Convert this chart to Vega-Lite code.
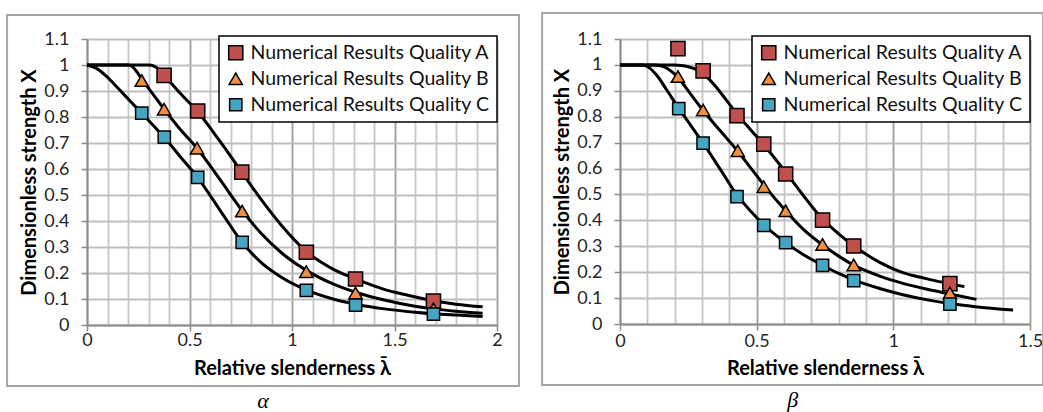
{
  "$schema": "https://vega.github.io/schema/vega-lite/v6.json",
  "padding": {"left": 6, "top": 12, "right": 0, "bottom": 0},
  "background": "white",
  "spacing": 21,
  "config": {
    "view": {"stroke": null},
    "font": "Lato",
    "legend": {
      "labelFont": "Lato", "labelFontSize": 19.5, "labelColor": "#111111", "labelLimit": 400,
      "strokeColor": "#000000", "strokeWidth": 1.5, "fillColor": "white", "padding": 7, "rowPadding": 5,
      "symbolStrokeColor": "#000000", "symbolStrokeWidth": 1.5, "symbolSize": 125, "labelOffset": 5,
      "symbolOpacity": 1
    }
  },
  "datasets": {
    "ptsAlpha": [
      {"series": "Numerical Results Quality A", "x": 0.376, "y": 0.96},
      {"series": "Numerical Results Quality A", "x": 0.54, "y": 0.823},
      {"series": "Numerical Results Quality A", "x": 0.755, "y": 0.588},
      {"series": "Numerical Results Quality A", "x": 1.07, "y": 0.28},
      {"series": "Numerical Results Quality A", "x": 1.31, "y": 0.177},
      {"series": "Numerical Results Quality A", "x": 1.69, "y": 0.092},
      {"series": "Numerical Results Quality B", "x": 0.267, "y": 0.94},
      {"series": "Numerical Results Quality B", "x": 0.376, "y": 0.83},
      {"series": "Numerical Results Quality B", "x": 0.537, "y": 0.68},
      {"series": "Numerical Results Quality B", "x": 0.757, "y": 0.438},
      {"series": "Numerical Results Quality B", "x": 1.07, "y": 0.205},
      {"series": "Numerical Results Quality B", "x": 1.31, "y": 0.123},
      {"series": "Numerical Results Quality B", "x": 1.69, "y": 0.062},
      {"series": "Numerical Results Quality C", "x": 0.267, "y": 0.815},
      {"series": "Numerical Results Quality C", "x": 0.377, "y": 0.723},
      {"series": "Numerical Results Quality C", "x": 0.54, "y": 0.568},
      {"series": "Numerical Results Quality C", "x": 0.757, "y": 0.318},
      {"series": "Numerical Results Quality C", "x": 1.07, "y": 0.133},
      {"series": "Numerical Results Quality C", "x": 1.31, "y": 0.076},
      {"series": "Numerical Results Quality C", "x": 1.69, "y": 0.042}
    ],
    "curvesAlpha": [
      {"series": "A", "x": 0, "y": 1}, {"series": "A", "x": 0.1, "y": 1}, {"series": "A", "x": 0.2, "y": 1}, {"series": "A", "x": 0.3, "y": 1},
      {"series": "A", "x": 0.33, "y": 0.995}, {"series": "A", "x": 0.355, "y": 0.98}, {"series": "A", "x": 0.38, "y": 0.958},
      {"series": "A", "x": 0.45, "y": 0.895}, {"series": "A", "x": 0.54, "y": 0.82}, {"series": "A", "x": 0.65, "y": 0.705},
      {"series": "A", "x": 0.755, "y": 0.588}, {"series": "A", "x": 0.85, "y": 0.482}, {"series": "A", "x": 0.95, "y": 0.382},
      {"series": "A", "x": 1.07, "y": 0.283}, {"series": "A", "x": 1.2, "y": 0.215}, {"series": "A", "x": 1.31, "y": 0.177},
      {"series": "A", "x": 1.45, "y": 0.137}, {"series": "A", "x": 1.55, "y": 0.117}, {"series": "A", "x": 1.69, "y": 0.093},
      {"series": "A", "x": 1.8, "y": 0.08}, {"series": "A", "x": 1.93, "y": 0.07},
      {"series": "B", "x": 0, "y": 1}, {"series": "B", "x": 0.1, "y": 1}, {"series": "B", "x": 0.2, "y": 1},
      {"series": "B", "x": 0.215, "y": 0.997}, {"series": "B", "x": 0.24, "y": 0.977}, {"series": "B", "x": 0.267, "y": 0.946},
      {"series": "B", "x": 0.32, "y": 0.89}, {"series": "B", "x": 0.376, "y": 0.83}, {"series": "B", "x": 0.45, "y": 0.757},
      {"series": "B", "x": 0.537, "y": 0.68}, {"series": "B", "x": 0.65, "y": 0.558}, {"series": "B", "x": 0.757, "y": 0.44},
      {"series": "B", "x": 0.85, "y": 0.352}, {"series": "B", "x": 0.95, "y": 0.277}, {"series": "B", "x": 1.07, "y": 0.21},
      {"series": "B", "x": 1.2, "y": 0.158}, {"series": "B", "x": 1.31, "y": 0.126}, {"series": "B", "x": 1.45, "y": 0.096},
      {"series": "B", "x": 1.6, "y": 0.072}, {"series": "B", "x": 1.69, "y": 0.062}, {"series": "B", "x": 1.8, "y": 0.053},
      {"series": "B", "x": 1.93, "y": 0.045},
      {"series": "C", "x": 0, "y": 1}, {"series": "C", "x": 0.044, "y": 0.988}, {"series": "C", "x": 0.093, "y": 0.958},
      {"series": "C", "x": 0.133, "y": 0.926}, {"series": "C", "x": 0.182, "y": 0.885}, {"series": "C", "x": 0.239, "y": 0.838},
      {"series": "C", "x": 0.267, "y": 0.815}, {"series": "C", "x": 0.32, "y": 0.77}, {"series": "C", "x": 0.377, "y": 0.722},
      {"series": "C", "x": 0.45, "y": 0.652}, {"series": "C", "x": 0.54, "y": 0.567}, {"series": "C", "x": 0.65, "y": 0.44},
      {"series": "C", "x": 0.757, "y": 0.318}, {"series": "C", "x": 0.85, "y": 0.24}, {"series": "C", "x": 0.95, "y": 0.183},
      {"series": "C", "x": 1.07, "y": 0.135}, {"series": "C", "x": 1.2, "y": 0.1}, {"series": "C", "x": 1.31, "y": 0.08},
      {"series": "C", "x": 1.45, "y": 0.062}, {"series": "C", "x": 1.6, "y": 0.049}, {"series": "C", "x": 1.69, "y": 0.043},
      {"series": "C", "x": 1.8, "y": 0.038}, {"series": "C", "x": 1.93, "y": 0.033}
    ],
    "ptsBeta": [
      {"series": "Numerical Results Quality A", "x": 0.212, "y": 1.063},
      {"series": "Numerical Results Quality A", "x": 0.304, "y": 0.977},
      {"series": "Numerical Results Quality A", "x": 0.428, "y": 0.804},
      {"series": "Numerical Results Quality A", "x": 0.526, "y": 0.694},
      {"series": "Numerical Results Quality A", "x": 0.606, "y": 0.579},
      {"series": "Numerical Results Quality A", "x": 0.741, "y": 0.401},
      {"series": "Numerical Results Quality A", "x": 0.855, "y": 0.301},
      {"series": "Numerical Results Quality A", "x": 1.207, "y": 0.156},
      {"series": "Numerical Results Quality B", "x": 0.212, "y": 0.955},
      {"series": "Numerical Results Quality B", "x": 0.304, "y": 0.826},
      {"series": "Numerical Results Quality B", "x": 0.431, "y": 0.669},
      {"series": "Numerical Results Quality B", "x": 0.526, "y": 0.53},
      {"series": "Numerical Results Quality B", "x": 0.606, "y": 0.437},
      {"series": "Numerical Results Quality B", "x": 0.741, "y": 0.307},
      {"series": "Numerical Results Quality B", "x": 0.855, "y": 0.228},
      {"series": "Numerical Results Quality B", "x": 1.207, "y": 0.12},
      {"series": "Numerical Results Quality C", "x": 0.215, "y": 0.831},
      {"series": "Numerical Results Quality C", "x": 0.304, "y": 0.698},
      {"series": "Numerical Results Quality C", "x": 0.428, "y": 0.492},
      {"series": "Numerical Results Quality C", "x": 0.526, "y": 0.381},
      {"series": "Numerical Results Quality C", "x": 0.606, "y": 0.314},
      {"series": "Numerical Results Quality C", "x": 0.741, "y": 0.226},
      {"series": "Numerical Results Quality C", "x": 0.855, "y": 0.167},
      {"series": "Numerical Results Quality C", "x": 1.207, "y": 0.077}
    ],
    "curvesBeta": [
      {"series": "A", "x": 0, "y": 1}, {"series": "A", "x": 0.1, "y": 1}, {"series": "A", "x": 0.2, "y": 1},
      {"series": "A", "x": 0.225, "y": 0.998}, {"series": "A", "x": 0.25, "y": 0.993}, {"series": "A", "x": 0.28, "y": 0.982},
      {"series": "A", "x": 0.304, "y": 0.967}, {"series": "A", "x": 0.35, "y": 0.917}, {"series": "A", "x": 0.39, "y": 0.863},
      {"series": "A", "x": 0.428, "y": 0.81}, {"series": "A", "x": 0.48, "y": 0.747}, {"series": "A", "x": 0.526, "y": 0.692},
      {"series": "A", "x": 0.606, "y": 0.586}, {"series": "A", "x": 0.67, "y": 0.497}, {"series": "A", "x": 0.741, "y": 0.405},
      {"series": "A", "x": 0.8, "y": 0.348}, {"series": "A", "x": 0.855, "y": 0.302}, {"series": "A", "x": 0.95, "y": 0.238},
      {"series": "A", "x": 1.035, "y": 0.198}, {"series": "A", "x": 1.12, "y": 0.175}, {"series": "A", "x": 1.207, "y": 0.155},
      {"series": "A", "x": 1.26, "y": 0.144},
      {"series": "B", "x": 0, "y": 1}, {"series": "B", "x": 0.13, "y": 1}, {"series": "B", "x": 0.16, "y": 0.993},
      {"series": "B", "x": 0.188, "y": 0.975}, {"series": "B", "x": 0.212, "y": 0.952}, {"series": "B", "x": 0.255, "y": 0.892},
      {"series": "B", "x": 0.304, "y": 0.824}, {"series": "B", "x": 0.37, "y": 0.742}, {"series": "B", "x": 0.431, "y": 0.667},
      {"series": "B", "x": 0.48, "y": 0.6}, {"series": "B", "x": 0.526, "y": 0.537}, {"series": "B", "x": 0.606, "y": 0.437},
      {"series": "B", "x": 0.67, "y": 0.366}, {"series": "B", "x": 0.741, "y": 0.305}, {"series": "B", "x": 0.8, "y": 0.262},
      {"series": "B", "x": 0.855, "y": 0.227}, {"series": "B", "x": 0.95, "y": 0.185}, {"series": "B", "x": 1.035, "y": 0.157},
      {"series": "B", "x": 1.12, "y": 0.135}, {"series": "B", "x": 1.207, "y": 0.116}, {"series": "B", "x": 1.304, "y": 0.095},
      {"series": "C", "x": 0, "y": 1}, {"series": "C", "x": 0.08, "y": 1}, {"series": "C", "x": 0.1, "y": 0.994},
      {"series": "C", "x": 0.133, "y": 0.962}, {"series": "C", "x": 0.17, "y": 0.905}, {"series": "C", "x": 0.215, "y": 0.832},
      {"series": "C", "x": 0.26, "y": 0.765}, {"series": "C", "x": 0.304, "y": 0.698}, {"series": "C", "x": 0.37, "y": 0.592},
      {"series": "C", "x": 0.428, "y": 0.498}, {"series": "C", "x": 0.48, "y": 0.433}, {"series": "C", "x": 0.526, "y": 0.383},
      {"series": "C", "x": 0.606, "y": 0.314}, {"series": "C", "x": 0.67, "y": 0.268}, {"series": "C", "x": 0.741, "y": 0.227},
      {"series": "C", "x": 0.8, "y": 0.195}, {"series": "C", "x": 0.855, "y": 0.17}, {"series": "C", "x": 0.95, "y": 0.137},
      {"series": "C", "x": 1.035, "y": 0.113}, {"series": "C", "x": 1.12, "y": 0.094}, {"series": "C", "x": 1.207, "y": 0.079},
      {"series": "C", "x": 1.3, "y": 0.067}, {"series": "C", "x": 1.438, "y": 0.054}
    ]
  },
  "resolve": {
    "scale": {"x": "independent", "y": "independent", "color": "independent", "shape": "independent", "size": "independent"},
    "legend": {"color": "independent", "shape": "independent", "size": "independent"}
  },
  "hconcat": [
    {
      "width": 410, "height": 286,
      "title": {"text": "α", "orient": "bottom", "frame": "bounds", "anchor": "middle", "font": "Liberation Serif", "fontStyle": "italic", "fontWeight": "normal", "fontSize": 22, "color": "#000000", "offset": 4},
      "layer": [
        {
          "data": {"values": [{}]},
          "mark": {"type": "rect", "fill": "white", "fillOpacity": 0, "stroke": "#a6a6a6", "strokeWidth": 2, "clip": false},
          "encoding": {
            "x": {"datum": -0.39, "type": "quantitative", "scale": {"domain": [0, 2], "nice": false, "zero": false},
              "axis": {"title": "Relative slenderness λ̄", "values": [0,0.1,0.2,0.3,0.4,0.5,0.6,0.7,0.8,0.9,1,1.1,1.2,1.3,1.4,1.5,1.6,1.7,1.8,1.9,2],
                "labelExpr": "round(datum.value*10) % 5 === 0 ? format(datum.value, '.1~f') : ''",
                "grid": true, "gridWidth": 1.8,
                "gridColor": {"condition": {"test": "round(datum.value*10) % 5 === 0", "value": "#9c9c9c"}, "value": "#c6c6c6"},
                "ticks": true, "tickSize": 6, "tickWidth": 1.5, "tickColor": "#8c8c8c",
                "tickOpacity": {"condition": {"test": "round(datum.value*10) % 5 === 0", "value": 1}, "value": 0},
                "domainColor": "#8c8c8c", "domainWidth": 1.8,
                "labelFont": "Lato", "labelFontSize": 18, "labelColor": "#262626", "labelFlush": false, "labelOverlap": false,
                "titleFont": "Lato", "titleFontSize": 20, "titleFontWeight": "bold", "titleColor": "#000000",
                "labelPadding": 0, "titlePadding": 9}},
            "x2": {"datum": 2.107},
            "y": {"datum": -0.235, "type": "quantitative", "scale": {"domain": [0, 1.1], "nice": false, "zero": false},
              "axis": {"title": "Dimensionless strength X", "values": [0,0.1,0.2,0.3,0.4,0.5,0.6,0.7,0.8,0.9,1,1.1],
                "format": ".1~f", "grid": true, "gridWidth": 1.8, "gridColor": "#bfbfbf",
                "ticks": true, "tickSize": 6, "tickWidth": 1.5, "tickColor": "#8c8c8c",
                "domainColor": "#8c8c8c", "domainWidth": 1.8,
                "labelFont": "Lato", "labelFontSize": 18, "labelColor": "#262626", "labelFlush": false, "labelOverlap": false,
                "titleFont": "Lato", "titleFontSize": 20, "titleFontWeight": "bold", "titleColor": "#000000",
                "labelPadding": 12, "titlePadding": 4}},
            "y2": {"datum": 1.192}
          }
        },
        {
          "data": {"name": "curvesAlpha"},
          "mark": {"type": "line", "color": "#000000", "strokeWidth": 3, "interpolate": "monotone"},
          "encoding": {
            "x": {"field": "x", "type": "quantitative", "scale": {"domain": [0, 2], "nice": false, "zero": false},
              "axis": {"title": "Relative slenderness λ̄", "values": [0,0.1,0.2,0.3,0.4,0.5,0.6,0.7,0.8,0.9,1,1.1,1.2,1.3,1.4,1.5,1.6,1.7,1.8,1.9,2],
                "labelExpr": "round(datum.value*10) % 5 === 0 ? format(datum.value, '.1~f') : ''",
                "grid": true, "gridWidth": 1.8,
                "gridColor": {"condition": {"test": "round(datum.value*10) % 5 === 0", "value": "#9c9c9c"}, "value": "#c6c6c6"},
                "ticks": true, "tickSize": 6, "tickWidth": 1.5, "tickColor": "#8c8c8c",
                "tickOpacity": {"condition": {"test": "round(datum.value*10) % 5 === 0", "value": 1}, "value": 0},
                "domainColor": "#8c8c8c", "domainWidth": 1.8,
                "labelFont": "Lato", "labelFontSize": 18, "labelColor": "#262626", "labelFlush": false, "labelOverlap": false,
                "titleFont": "Lato", "titleFontSize": 20, "titleFontWeight": "bold", "titleColor": "#000000",
                "labelPadding": 0, "titlePadding": 9}},
            "y": {"field": "y", "type": "quantitative", "scale": {"domain": [0, 1.1], "nice": false, "zero": false},
              "axis": {"title": "Dimensionless strength X", "values": [0,0.1,0.2,0.3,0.4,0.5,0.6,0.7,0.8,0.9,1,1.1],
                "format": ".1~f", "grid": true, "gridWidth": 1.8, "gridColor": "#bfbfbf",
                "ticks": true, "tickSize": 6, "tickWidth": 1.5, "tickColor": "#8c8c8c",
                "domainColor": "#8c8c8c", "domainWidth": 1.8,
                "labelFont": "Lato", "labelFontSize": 18, "labelColor": "#262626", "labelFlush": false, "labelOverlap": false,
                "titleFont": "Lato", "titleFontSize": 20, "titleFontWeight": "bold", "titleColor": "#000000",
                "labelPadding": 12, "titlePadding": 4}},
            "detail": {"field": "series"}
          }
        },
        {
          "data": {"name": "ptsAlpha"},
          "mark": {"type": "point", "filled": true, "stroke": "#000000", "strokeWidth": 1.5, "opacity": 1},
          "encoding": {
            "x": {"field": "x", "type": "quantitative", "scale": {"domain": [0, 2], "nice": false, "zero": false},
              "axis": {"title": "Relative slenderness λ̄", "values": [0,0.1,0.2,0.3,0.4,0.5,0.6,0.7,0.8,0.9,1,1.1,1.2,1.3,1.4,1.5,1.6,1.7,1.8,1.9,2],
                "labelExpr": "round(datum.value*10) % 5 === 0 ? format(datum.value, '.1~f') : ''",
                "grid": true, "gridWidth": 1.8,
                "gridColor": {"condition": {"test": "round(datum.value*10) % 5 === 0", "value": "#9c9c9c"}, "value": "#c6c6c6"},
                "ticks": true, "tickSize": 6, "tickWidth": 1.5, "tickColor": "#8c8c8c",
                "tickOpacity": {"condition": {"test": "round(datum.value*10) % 5 === 0", "value": 1}, "value": 0},
                "domainColor": "#8c8c8c", "domainWidth": 1.8,
                "labelFont": "Lato", "labelFontSize": 18, "labelColor": "#262626", "labelFlush": false, "labelOverlap": false,
                "titleFont": "Lato", "titleFontSize": 20, "titleFontWeight": "bold", "titleColor": "#000000",
                "labelPadding": 0, "titlePadding": 9}},
            "y": {"field": "y", "type": "quantitative", "scale": {"domain": [0, 1.1], "nice": false, "zero": false},
              "axis": {"title": "Dimensionless strength X", "values": [0,0.1,0.2,0.3,0.4,0.5,0.6,0.7,0.8,0.9,1,1.1],
                "format": ".1~f", "grid": true, "gridWidth": 1.8, "gridColor": "#bfbfbf",
                "ticks": true, "tickSize": 6, "tickWidth": 1.5, "tickColor": "#8c8c8c",
                "domainColor": "#8c8c8c", "domainWidth": 1.8,
                "labelFont": "Lato", "labelFontSize": 18, "labelColor": "#262626", "labelFlush": false, "labelOverlap": false,
                "titleFont": "Lato", "titleFontSize": 20, "titleFontWeight": "bold", "titleColor": "#000000",
                "labelPadding": 12, "titlePadding": 4}},
            "color": {"field": "series", "type": "nominal", "sort": null,
              "scale": {"domain": ["Numerical Results Quality A", "Numerical Results Quality B", "Numerical Results Quality C"], "range": ["#C0504D", "#F09040", "#46A5C2"]},
              "legend": {"title": null, "orient": "none", "legendX": 132, "legendY": -3, "labelLimit": 400,
                "encode": {"symbols": {"update": {"stroke": {"value": "#000000"}, "strokeWidth": {"value": 1.5}}}}}},
            "shape": {"field": "series", "type": "nominal", "sort": null,
              "scale": {"domain": ["Numerical Results Quality A", "Numerical Results Quality B", "Numerical Results Quality C"], "range": ["square", "triangle-up", "square"]},
              "legend": {"title": null, "orient": "none", "legendX": 132, "legendY": -3, "labelLimit": 400,
                "encode": {"symbols": {"update": {"stroke": {"value": "#000000"}, "strokeWidth": {"value": 1.5}}}}}},
            "size": {"field": "series", "type": "nominal", "legend": null,
              "scale": {"domain": ["Numerical Results Quality A", "Numerical Results Quality B", "Numerical Results Quality C"], "range": [200, 150, 275]}}
          }
        }
      ]
    },
    {
      "width": 410, "height": 285,
      "title": {"text": "β", "orient": "bottom", "frame": "bounds", "anchor": "middle", "font": "Liberation Serif", "fontStyle": "italic", "fontWeight": "normal", "fontSize": 22, "color": "#000000", "offset": 4},
      "layer": [
        {
          "data": {"values": [{}]},
          "mark": {"type": "rect", "fill": "white", "fillOpacity": 0, "stroke": "#a6a6a6", "strokeWidth": 2, "clip": false},
          "encoding": {
            "x": {"datum": -0.285, "type": "quantitative", "scale": {"domain": [0, 1.5], "nice": false, "zero": false},
              "axis": {"title": "Relative slenderness λ̄", "values": [0,0.1,0.2,0.3,0.4,0.5,0.6,0.7,0.8,0.9,1,1.1,1.2,1.3,1.4,1.5],
                "labelExpr": "round(datum.value*10) % 5 === 0 ? format(datum.value, '.1~f') : ''",
                "grid": true, "gridWidth": 1.8,
                "gridColor": {"condition": {"test": "round(datum.value*10) % 5 === 0", "value": "#9c9c9c"}, "value": "#c6c6c6"},
                "ticks": true, "tickSize": 6, "tickWidth": 1.5, "tickColor": "#8c8c8c",
                "tickOpacity": {"condition": {"test": "round(datum.value*10) % 5 === 0", "value": 1}, "value": 0},
                "domainColor": "#8c8c8c", "domainWidth": 1.8,
                "labelFont": "Lato", "labelFontSize": 18, "labelColor": "#262626", "labelFlush": false, "labelOverlap": false,
                "titleFont": "Lato", "titleFontSize": 20, "titleFontWeight": "bold", "titleColor": "#000000",
                "labelPadding": 2, "titlePadding": 8}},
            "x2": {"datum": 1.548},
            "y": {"datum": -0.235, "type": "quantitative", "scale": {"domain": [0, 1.1], "nice": false, "zero": false},
              "axis": {"title": "Dimensionless strength X", "values": [0,0.1,0.2,0.3,0.4,0.5,0.6,0.7,0.8,0.9,1,1.1],
                "format": ".1~f", "grid": true, "gridWidth": 1.8, "gridColor": "#bfbfbf",
                "ticks": true, "tickSize": 6, "tickWidth": 1.5, "tickColor": "#8c8c8c",
                "domainColor": "#8c8c8c", "domainWidth": 1.8,
                "labelFont": "Lato", "labelFontSize": 18, "labelColor": "#262626", "labelFlush": false, "labelOverlap": false,
                "titleFont": "Lato", "titleFontSize": 20, "titleFontWeight": "bold", "titleColor": "#000000",
                "labelPadding": 12, "titlePadding": 4}},
            "y2": {"datum": 1.2}
          }
        },
        {
          "data": {"name": "curvesBeta"},
          "mark": {"type": "line", "color": "#000000", "strokeWidth": 3, "interpolate": "monotone"},
          "encoding": {
            "x": {"field": "x", "type": "quantitative", "scale": {"domain": [0, 1.5], "nice": false, "zero": false},
              "axis": {"title": "Relative slenderness λ̄", "values": [0,0.1,0.2,0.3,0.4,0.5,0.6,0.7,0.8,0.9,1,1.1,1.2,1.3,1.4,1.5],
                "labelExpr": "round(datum.value*10) % 5 === 0 ? format(datum.value, '.1~f') : ''",
                "grid": true, "gridWidth": 1.8,
                "gridColor": {"condition": {"test": "round(datum.value*10) % 5 === 0", "value": "#9c9c9c"}, "value": "#c6c6c6"},
                "ticks": true, "tickSize": 6, "tickWidth": 1.5, "tickColor": "#8c8c8c",
                "tickOpacity": {"condition": {"test": "round(datum.value*10) % 5 === 0", "value": 1}, "value": 0},
                "domainColor": "#8c8c8c", "domainWidth": 1.8,
                "labelFont": "Lato", "labelFontSize": 18, "labelColor": "#262626", "labelFlush": false, "labelOverlap": false,
                "titleFont": "Lato", "titleFontSize": 20, "titleFontWeight": "bold", "titleColor": "#000000",
                "labelPadding": 2, "titlePadding": 8}},
            "y": {"field": "y", "type": "quantitative", "scale": {"domain": [0, 1.1], "nice": false, "zero": false},
              "axis": {"title": "Dimensionless strength X", "values": [0,0.1,0.2,0.3,0.4,0.5,0.6,0.7,0.8,0.9,1,1.1],
                "format": ".1~f", "grid": true, "gridWidth": 1.8, "gridColor": "#bfbfbf",
                "ticks": true, "tickSize": 6, "tickWidth": 1.5, "tickColor": "#8c8c8c",
                "domainColor": "#8c8c8c", "domainWidth": 1.8,
                "labelFont": "Lato", "labelFontSize": 18, "labelColor": "#262626", "labelFlush": false, "labelOverlap": false,
                "titleFont": "Lato", "titleFontSize": 20, "titleFontWeight": "bold", "titleColor": "#000000",
                "labelPadding": 12, "titlePadding": 4}},
            "detail": {"field": "series"}
          }
        },
        {
          "data": {"name": "ptsBeta"},
          "mark": {"type": "point", "filled": true, "stroke": "#000000", "strokeWidth": 1.5, "opacity": 1},
          "encoding": {
            "x": {"field": "x", "type": "quantitative", "scale": {"domain": [0, 1.5], "nice": false, "zero": false},
              "axis": {"title": "Relative slenderness λ̄", "values": [0,0.1,0.2,0.3,0.4,0.5,0.6,0.7,0.8,0.9,1,1.1,1.2,1.3,1.4,1.5],
                "labelExpr": "round(datum.value*10) % 5 === 0 ? format(datum.value, '.1~f') : ''",
                "grid": true, "gridWidth": 1.8,
                "gridColor": {"condition": {"test": "round(datum.value*10) % 5 === 0", "value": "#9c9c9c"}, "value": "#c6c6c6"},
                "ticks": true, "tickSize": 6, "tickWidth": 1.5, "tickColor": "#8c8c8c",
                "tickOpacity": {"condition": {"test": "round(datum.value*10) % 5 === 0", "value": 1}, "value": 0},
                "domainColor": "#8c8c8c", "domainWidth": 1.8,
                "labelFont": "Lato", "labelFontSize": 18, "labelColor": "#262626", "labelFlush": false, "labelOverlap": false,
                "titleFont": "Lato", "titleFontSize": 20, "titleFontWeight": "bold", "titleColor": "#000000",
                "labelPadding": 2, "titlePadding": 8}},
            "y": {"field": "y", "type": "quantitative", "scale": {"domain": [0, 1.1], "nice": false, "zero": false},
              "axis": {"title": "Dimensionless strength X", "values": [0,0.1,0.2,0.3,0.4,0.5,0.6,0.7,0.8,0.9,1,1.1],
                "format": ".1~f", "grid": true, "gridWidth": 1.8, "gridColor": "#bfbfbf",
                "ticks": true, "tickSize": 6, "tickWidth": 1.5, "tickColor": "#8c8c8c",
                "domainColor": "#8c8c8c", "domainWidth": 1.8,
                "labelFont": "Lato", "labelFontSize": 18, "labelColor": "#262626", "labelFlush": false, "labelOverlap": false,
                "titleFont": "Lato", "titleFontSize": 20, "titleFontWeight": "bold", "titleColor": "#000000",
                "labelPadding": 12, "titlePadding": 4}},
            "color": {"field": "series", "type": "nominal", "sort": null,
              "scale": {"domain": ["Numerical Results Quality A", "Numerical Results Quality B", "Numerical Results Quality C"], "range": ["#C0504D", "#F09040", "#46A5C2"]},
              "legend": {"title": null, "orient": "none", "legendX": 132, "legendY": -3, "labelLimit": 400,
                "encode": {"symbols": {"update": {"stroke": {"value": "#000000"}, "strokeWidth": {"value": 1.5}}}}}},
            "shape": {"field": "series", "type": "nominal", "sort": null,
              "scale": {"domain": ["Numerical Results Quality A", "Numerical Results Quality B", "Numerical Results Quality C"], "range": ["square", "triangle-up", "square"]},
              "legend": {"title": null, "orient": "none", "legendX": 132, "legendY": -3, "labelLimit": 400,
                "encode": {"symbols": {"update": {"stroke": {"value": "#000000"}, "strokeWidth": {"value": 1.5}}}}}},
            "size": {"field": "series", "type": "nominal", "legend": null,
              "scale": {"domain": ["Numerical Results Quality A", "Numerical Results Quality B", "Numerical Results Quality C"], "range": [200, 150, 275]}}
          }
        }
      ]
    }
  ]
}
